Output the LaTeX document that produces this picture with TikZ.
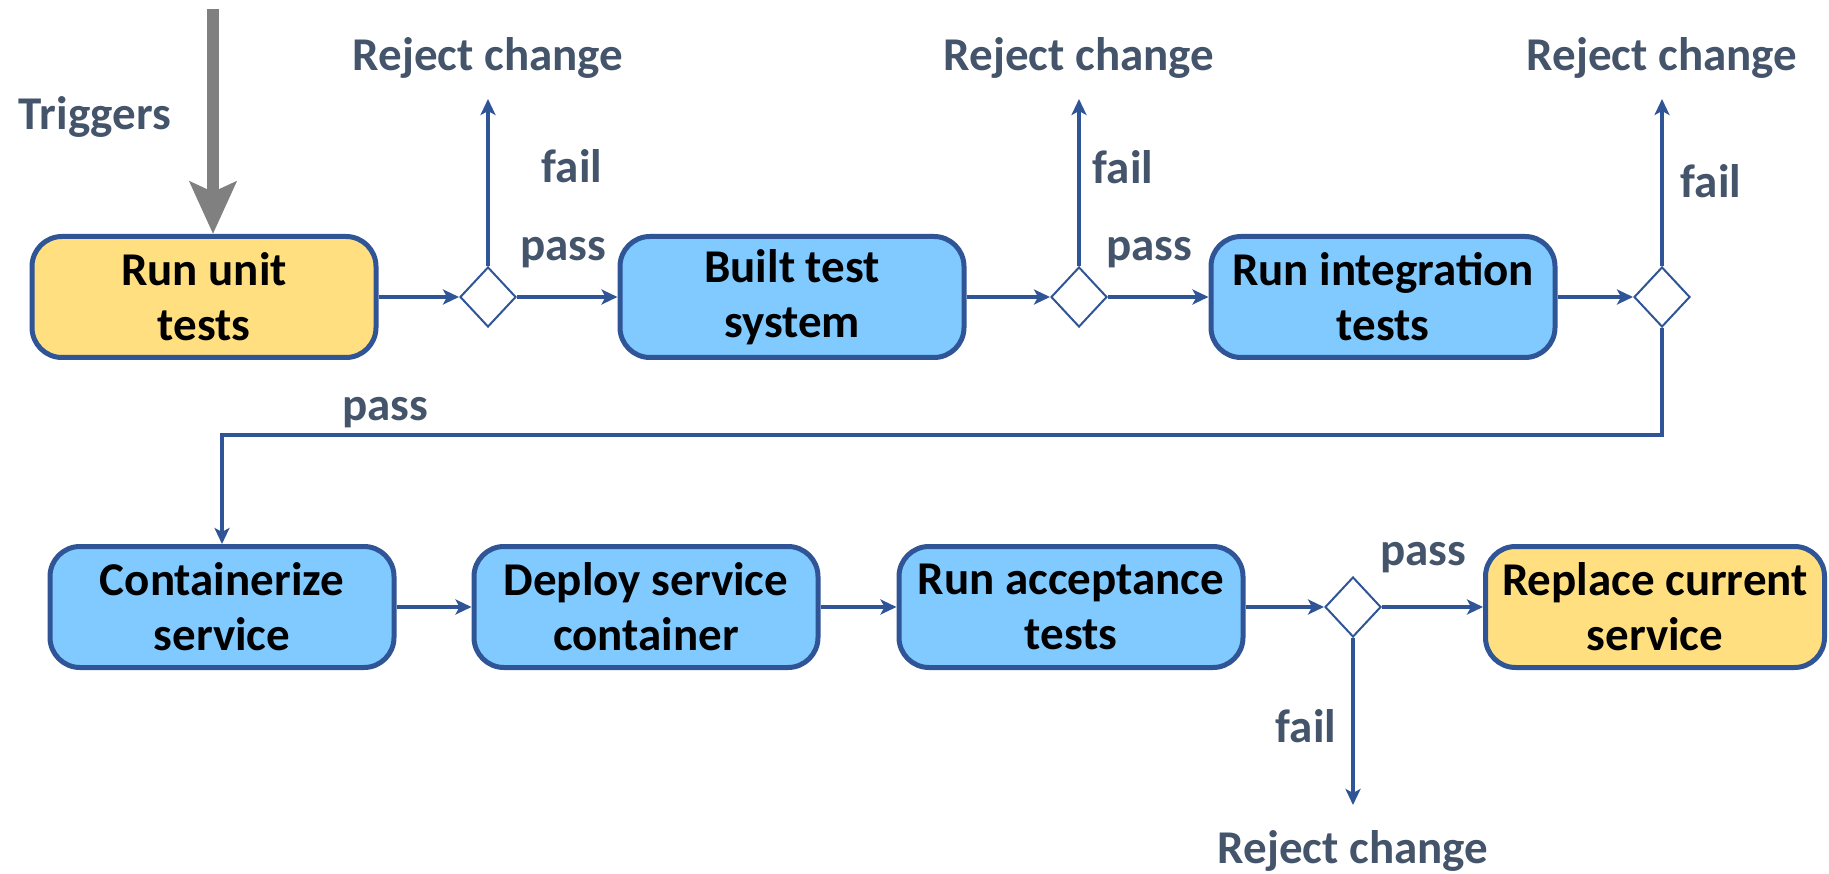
\documentclass[tikz,border=0pt]{standalone}
\usepackage{fontspec}
\setmainfont{Carlito}
\usetikzlibrary{arrows.meta,positioning,shapes.geometric}
\definecolor{flowblue}{RGB}{47,85,151}
\definecolor{stepblue}{RGB}{128,202,255}
\definecolor{stepyellow}{RGB}{255,223,128}
\definecolor{notegray}{RGB}{68,84,106}
\definecolor{triggergray}{RGB}{128,128,128}
\tikzset{
  stage/.style={draw=flowblue, line width=5pt, rounded corners=30pt, fill=stepblue,
    minimum width=344pt, minimum height=121pt, align=center, text=black,
    font=\fontsize{47}{55}\selectfont\bfseries},
  endstage/.style={stage, fill=stepyellow},
  gate/.style={diamond, draw=flowblue, line width=2pt, fill=white,
    minimum width=56pt, minimum height=60pt, inner sep=0pt},
  flow/.style={draw=flowblue, line width=4pt, -{Stealth[length=16pt,width=15pt,inset=4pt]}},
  note/.style={text=notegray, font=\fontsize{47}{55}\selectfont\bfseries},
  trigger/.style={draw=triggergray, line width=12pt, -{Stealth[length=52pt,width=46pt,inset=10pt]}}
}
\begin{document}
\begin{tikzpicture}[x=1pt,y=-1pt]
  \useasboundingbox (0,0) rectangle (1829,874);

  \node[endstage] (unit) at (204,297) {Run unit\\tests};
  \node[stage] (build) at (792,297) {Built test\\system};
  \node[stage] (integ) at (1383,297) {Run integration\\tests};
  \node[gate] (g1) at (488,297) {};
  \node[gate] (g2) at (1079,297) {};
  \node[gate] (g3) at (1662,297) {};

  \node[stage] (contain) at (222,607) {Containerize\\service};
  \node[stage] (deploy) at (646,607) {Deploy service\\container};
  \node[stage] (accept) at (1071,607) {Run acceptance\\tests};
  \node[gate] (g4) at (1353,607) {};
  \node[endstage, minimum width=339pt] (replace) at (1655,607) {Replace current\\service};

  \node[note, anchor=south, outer sep=17pt] (rej1) at (488,99) {Reject change};
  \node[note, anchor=south, outer sep=17pt] (rej2) at (1079,99) {Reject change};
  \node[note, anchor=south, outer sep=17pt] (rej3) at (1662,99) {Reject change};
  \node[note, anchor=north, outer sep=22pt] (rej4) at (1353,805) {Reject change};

  \node[note] (trig) at (95,117) {Triggers};
  \node[note] (fail1) at (572,166) {fail};
  \node[note] (pass1) at (563,253) {pass};
  \node[note] (fail2) at (1123,167) {fail};
  \node[note] (pass2) at (1149,253) {pass};
  \node[note] (fail3) at (1711,181) {fail};
  \node[note] (pass3) at (385,413) {pass};
  \node[note] (pass4) at (1423,558) {pass};
  \node[note] (fail4) at (1306,726) {fail};

  \coordinate (trigtop) at (213,9);
  \coordinate (loopy) at (0,435);
  \draw[trigger] (trigtop) -- (trigtop |- unit.north);

  \draw[flow] (unit) -- (g1);
  \draw[flow] (g1) -- (build);
  \draw[flow] (build) -- (g2);
  \draw[flow] (g2) -- (integ);
  \draw[flow] (integ) -- (g3);
  \draw[flow] (g1.north) -- (rej1.south);
  \draw[flow] (g2.north) -- (rej2.south);
  \draw[flow] (g3.north) -- (rej3.south);
  \draw[flow] (g3.south) -- (g3.south |- loopy) -| (contain.north);

  \draw[flow] (contain) -- (deploy);
  \draw[flow] (deploy) -- (accept);
  \draw[flow] (accept) -- (g4);
  \draw[flow] (g4) -- (replace);
  \draw[flow] (g4.south) -- (rej4.north);
\end{tikzpicture}
\end{document}
